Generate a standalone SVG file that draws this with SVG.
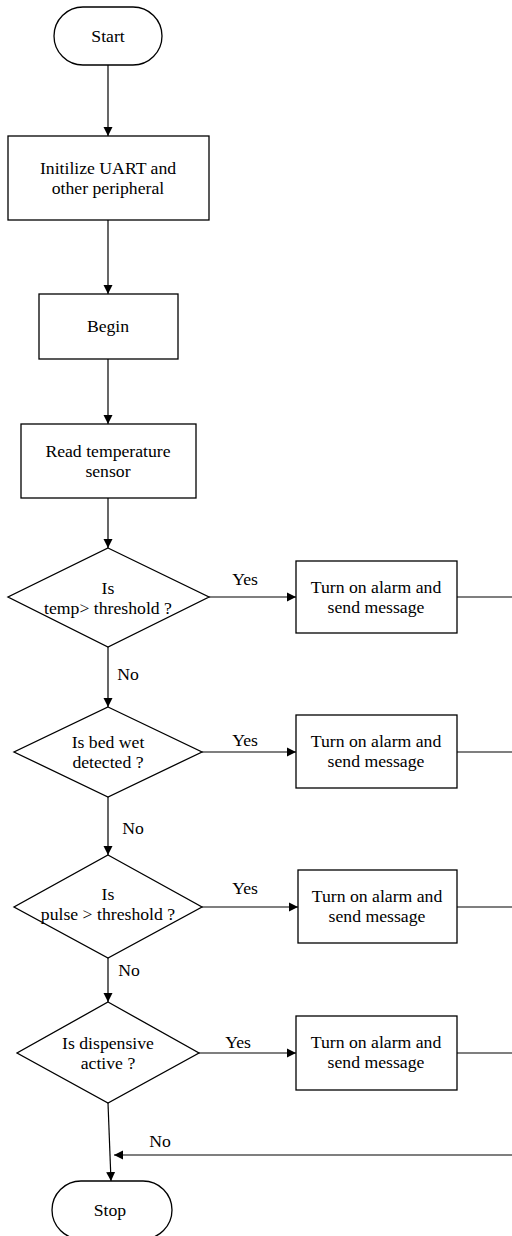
<svg xmlns="http://www.w3.org/2000/svg" width="512" height="1236" viewBox="0 0 512 1236">
<style>
.s{fill:#fff;stroke:#000;stroke-width:1.3}
.c{fill:none;stroke:#000;stroke-width:1.2}
.t{font-family:"Liberation Serif","Times New Roman","DejaVu Serif",serif;font-size:17.7px;fill:#000;text-anchor:middle}
</style>
<defs>
<marker id="a" markerWidth="10" markerHeight="10" refX="9" refY="5" orient="auto" markerUnits="userSpaceOnUse">
<path d="M0,0.5 L9,5 L0,9.5 Z" fill="#000"/>
</marker>
</defs>
<rect width="512" height="1236" fill="#fff"/>
<g id="connectors">
<line class="c" x1="108" y1="65" x2="108" y2="136" marker-end="url(#a)"/>
<line class="c" x1="108" y1="220" x2="108" y2="294" marker-end="url(#a)"/>
<line class="c" x1="108" y1="359" x2="108" y2="424" marker-end="url(#a)"/>
<line class="c" x1="108" y1="498" x2="108" y2="548" marker-end="url(#a)"/>
<line class="c" x1="209" y1="597" x2="296" y2="597" marker-end="url(#a)"/>
<line class="c" x1="457" y1="597" x2="512" y2="597"/>
<line class="c" x1="108" y1="647" x2="108" y2="707" marker-end="url(#a)"/>
<line class="c" x1="202" y1="752" x2="296" y2="752" marker-end="url(#a)"/>
<line class="c" x1="457" y1="752" x2="512" y2="752"/>
<line class="c" x1="108" y1="797" x2="108" y2="855" marker-end="url(#a)"/>
<line class="c" x1="202" y1="907" x2="298" y2="907" marker-end="url(#a)"/>
<line class="c" x1="457" y1="907" x2="512" y2="907"/>
<line class="c" x1="108" y1="958" x2="108" y2="1002" marker-end="url(#a)"/>
<line class="c" x1="199" y1="1053" x2="296" y2="1053" marker-end="url(#a)"/>
<line class="c" x1="457" y1="1053" x2="512" y2="1053"/>
<line class="c" x1="108" y1="1103" x2="111" y2="1181" marker-end="url(#a)"/>
<line class="c" x1="512" y1="1155" x2="114" y2="1155" marker-end="url(#a)"/>
<text x="245" y="585" class="t">Yes</text>
<text x="128" y="680" class="t">No</text>
<text x="245" y="746" class="t">Yes</text>
<text x="133" y="834" class="t">No</text>
<text x="245" y="894" class="t">Yes</text>
<text x="129" y="976" class="t">No</text>
<text x="238" y="1048" class="t">Yes</text>
<text x="160" y="1147" class="t">No</text>
</g>
<g id="start">
<rect class="s" x="54" y="7" width="108" height="58" rx="29" ry="29"/>
<text x="108" y="42" class="t">Start</text>
</g>
<g id="init">
<rect class="s" x="8" y="136" width="201" height="84"/>
<text x="108" y="174" class="t">Initilize UART and</text>
<text x="108" y="194" class="t">other peripheral</text>
</g>
<g id="begin">
<rect class="s" x="39" y="294" width="139" height="65"/>
<text x="108" y="332" class="t">Begin</text>
</g>
<g id="read">
<rect class="s" x="21" y="424" width="175" height="74"/>
<text x="108" y="457" class="t">Read temperature</text>
<text x="108" y="477" class="t">sensor</text>
</g>
<g id="d1">
<polygon class="s" points="108,548 209,597 108,647 8,597"/>
<text x="108" y="594" class="t">Is</text>
<text x="108" y="614" class="t">temp&gt; threshold ?</text>
</g>
<g id="a1">
<rect class="s" x="296" y="561" width="161" height="72"/>
<text x="376" y="593" class="t">Turn on alarm and</text>
<text x="376" y="613" class="t">send message</text>
</g>
<g id="d2">
<polygon class="s" points="108,707 202,752 108,797 14,752"/>
<text x="108" y="748" class="t">Is bed wet</text>
<text x="108" y="768" class="t">detected ?</text>
</g>
<g id="a2">
<rect class="s" x="296" y="715" width="161" height="73"/>
<text x="376" y="747" class="t">Turn on alarm and</text>
<text x="376" y="767" class="t">send message</text>
</g>
<g id="d3">
<polygon class="s" points="108,855 202,907 108,958 14,907"/>
<text x="108" y="900" class="t">Is</text>
<text x="108" y="920" class="t">pulse &gt; threshold ?</text>
</g>
<g id="a3">
<rect class="s" x="298" y="870" width="159" height="73"/>
<text x="377" y="902" class="t">Turn on alarm and</text>
<text x="377" y="922" class="t">send message</text>
</g>
<g id="d4">
<polygon class="s" points="108,1002 199,1053 108,1103 17,1053"/>
<text x="108" y="1049" class="t">Is dispensive</text>
<text x="108" y="1069" class="t">active ?</text>
</g>
<g id="a4">
<rect class="s" x="296" y="1016" width="161" height="74"/>
<text x="376" y="1048" class="t">Turn on alarm and</text>
<text x="376" y="1068" class="t">send message</text>
</g>
<g id="stop">
<rect class="s" x="52" y="1181" width="120" height="58" rx="29" ry="29"/>
<text x="110" y="1216" class="t">Stop</text>
</g>
</svg>
